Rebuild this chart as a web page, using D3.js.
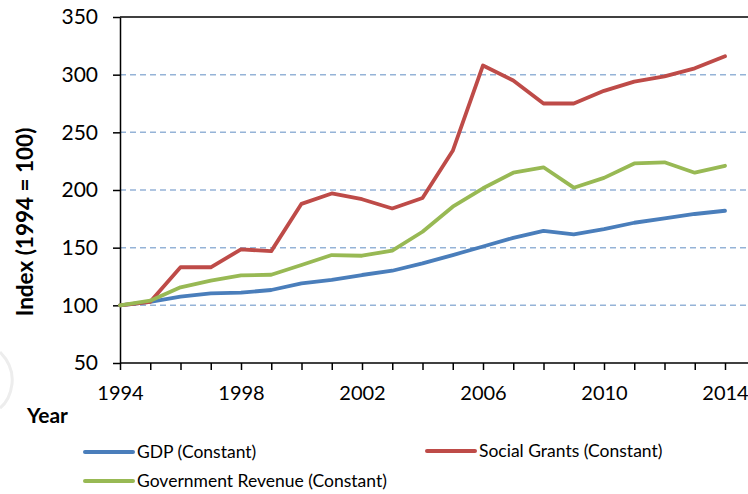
<!DOCTYPE html>
<html>
<head>
<meta charset="utf-8">
<script src="https://cdn.jsdelivr.net/npm/d3@7"></script>
<style>
  body { margin: 0; background: #fff; }
  svg { font-family: Lato, "Noto Sans", sans-serif; }
</style>
</head>
<body>
<div id="chart"></div>
<script>
const years = d3.range(1994, 2015);
const gdp = [100, 103, 107.5, 110.4, 111, 113.3, 119, 122, 126.3, 130, 136.4, 143.6, 151, 158.5, 164.5, 161.6, 166, 171.6, 175.4, 179.2, 182];
const grants = [100, 103, 133, 133, 148.5, 147, 188, 197, 192, 184, 193, 234, 308, 295, 275, 275, 286, 294, 298.5, 305.5, 316];
const revenue = [100, 104, 115.6, 121.4, 126, 126.5, 135, 143.6, 143, 147.5, 163.8, 185.5, 201.5, 215, 219.7, 202, 210.5, 223, 224, 215, 221];
const yTicks = [50, 100, 150, 200, 250, 300, 350];
const gridValues = [100, 150, 200, 250, 300];
const labelYears = [1994, 1998, 2002, 2006, 2010, 2014];

const series = [
    {name: "GDP (Constant)", values: gdp, color: "#4a7ebb"},
    {name: "Social Grants (Constant)", values: grants, color: "#be4b48"},
    {name: "Government Revenue (Constant)", values: revenue, color: "#98b954"}
];

const width = 748, height = 494;
const plotLeft = 120, plotRight = 748, plotTop = 17, plotBottom = 363;

const svg = d3.select("#chart").append("svg")
    .attr("width", width)
    .attr("height", height);

const x = d3.scaleLinear().domain([1994, 2014]).range([plotLeft, 725]);
const y = d3.scaleLinear().domain([50, 350]).range([plotBottom, plotTop]);

// faint rounded frame corner at the left edge
svg.append("path")
    .attr("d", "M0,352 Q14,366 12,384 Q10,400 0,408")
    .attr("fill", "none")
    .attr("stroke", "#ededed")
    .attr("stroke-width", 3);

// gridlines
svg.append("g").selectAll("line")
    .data(gridValues)
    .join("line")
    .attr("x1", plotLeft)
    .attr("x2", plotRight)
    .attr("y1", d => y(d))
    .attr("y2", d => y(d))
    .attr("stroke", "#95b3d7")
    .attr("stroke-width", 1.5)
    .attr("stroke-dasharray", "6,4");

// top border
svg.append("line")
    .attr("x1", plotLeft).attr("x2", plotRight)
    .attr("y1", y(350)).attr("y2", y(350))
    .attr("stroke", "#000").attr("stroke-width", 1.5);

// y axis
const yAxis = svg.append("g")
    .attr("transform", `translate(${plotLeft},0)`)
    .call(d3.axisLeft(y).tickValues(yTicks).tickSize(7).tickPadding(15).tickSizeOuter(0));
yAxis.select(".domain").attr("stroke-width", 1.5);
yAxis.selectAll(".tick line").attr("stroke-width", 1.5);
yAxis.selectAll(".tick text").attr("font-size", 21).attr("fill", "#000").attr("font-family", "Lato");

// x axis
const xAxis = svg.append("g")
    .attr("transform", `translate(0,${plotBottom})`)
    .call(d3.axisBottom(x).tickValues(years).tickSize(7).tickPadding(16)
        .tickFormat(d => labelYears.includes(d) ? d : ""));
xAxis.select(".domain").remove();
xAxis.append("line")
    .attr("x1", plotLeft).attr("x2", plotRight)
    .attr("stroke", "#000").attr("stroke-width", 1.5);
xAxis.selectAll(".tick line").attr("stroke-width", 1.5);
xAxis.selectAll(".tick text").attr("font-size", 20).attr("fill", "#000").attr("font-family", "Lato");

// lines
const line = d3.line()
    .x((d, i) => x(years[i]))
    .y(d => y(d));

svg.append("g").selectAll("path")
    .data(series)
    .join("path")
    .attr("d", d => line(d.values))
    .attr("fill", "none")
    .attr("stroke", d => d.color)
    .attr("stroke-width", 3.8)
    .attr("stroke-linejoin", "round")
    .attr("stroke-linecap", "round");

// axis titles
svg.append("text")
    .attr("transform", `translate(33,${(plotTop + plotBottom) / 2 + 32}) rotate(-90)`)
    .attr("text-anchor", "middle")
    .attr("font-size", 22.5)
    .attr("font-weight", "bold")
    .text("Index (1994 = 100)");

svg.append("text")
    .attr("x", 27)
    .attr("y", 423)
    .attr("font-size", 21)
    .attr("font-weight", "bold")
    .text("Year");

// legend
const legendPos = [
    {x: 85, y: 452},
    {x: 427, y: 451},
    {x: 85, y: 481}
];

const legend = svg.append("g").selectAll("g")
    .data(series)
    .join("g")
    .attr("transform", (d, i) => `translate(${legendPos[i].x},${legendPos[i].y})`);

legend.append("line")
    .attr("x1", 0).attr("x2", 48)
    .attr("stroke", d => d.color)
    .attr("stroke-width", 4)
    .attr("stroke-linecap", "round");

legend.append("text")
    .attr("x", 52)
    .attr("dy", "0.35em")
    .attr("font-size", 17.5)
    .text(d => d.name);
</script>
</body>
</html>
